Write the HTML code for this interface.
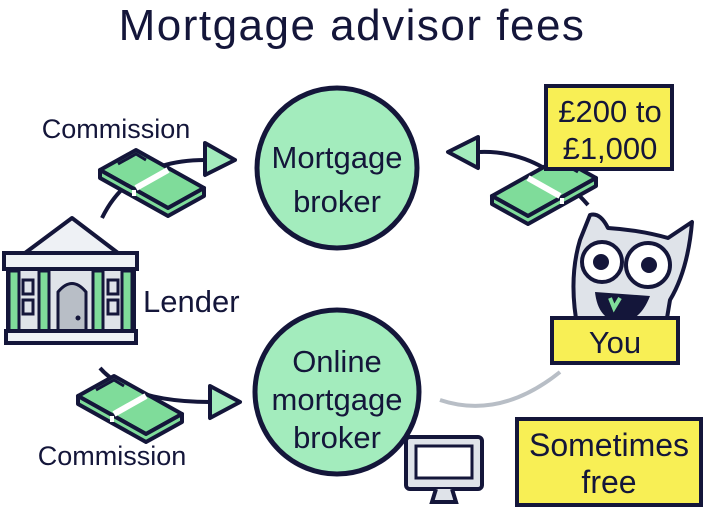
<!DOCTYPE html>
<html><head><style>body{margin:0;background:#fff}svg{display:block}text{font-family:"Liberation Sans",sans-serif;fill:#14163a}</style></head><body>
<svg width="705" height="512" viewBox="0 0 705 512">
<defs>
<g id="money"><path d="M0,20 L36,0 L104,38 L68,58 Z" fill="#7fdc9a" stroke="#14163a" stroke-width="4" stroke-linejoin="round"/><path d="M0,20 L0,28 L68,66 L104,46 L104,38 L68,58 Z" fill="#7fdc9a" stroke="#14163a" stroke-width="4" stroke-linejoin="round"/><path d="M36,38 L68,20" stroke="#fff" stroke-width="6"/><path d="M34,40 L34,46" stroke="#fff" stroke-width="4"/><path d="M18,14 L36,4 L46,10" fill="none" stroke="#14163a" stroke-width="3"/></g>
</defs>
<text x="352" y="40" font-size="44" letter-spacing="1.5" text-anchor="middle">Mortgage advisor fees</text>
<circle cx="337" cy="168" r="80" fill="#a3ecbd" stroke="#14163a" stroke-width="5"/>
<text x="337" y="168" font-size="31" text-anchor="middle">Mortgage</text>
<text x="337" y="212" font-size="31" text-anchor="middle">broker</text>
<circle cx="337" cy="392" r="82" fill="#a3ecbd" stroke="#14163a" stroke-width="5"/>
<text x="337" y="372" font-size="31" text-anchor="middle">Online</text>
<text x="337" y="410" font-size="31" text-anchor="middle">mortgage</text>
<text x="337" y="448" font-size="31" text-anchor="middle">broker</text>
<path d="M102,218 Q130,160 205,160" fill="none" stroke="#14163a" stroke-width="4"/>
<path d="M205,143 L235,160 L205,175 Z" fill="#a3ecbd" stroke="#14163a" stroke-width="4" stroke-linejoin="round"/>
<use href="#money" x="100" y="150"/>
<text x="116" y="138" font-size="27" text-anchor="middle">Commission</text>
<path d="M100,368 Q130,402 210,402" fill="none" stroke="#14163a" stroke-width="4"/>
<path d="M210,386 L240,402 L210,418 Z" fill="#a3ecbd" stroke="#14163a" stroke-width="4" stroke-linejoin="round"/>
<use href="#money" x="78" y="376"/>
<text x="112" y="465" font-size="27" text-anchor="middle">Commission</text>
<path d="M25,253 L72,218 L118,253 Z" fill="#eef1f5" stroke="#14163a" stroke-width="4" stroke-linejoin="round"/>
<rect x="4" y="253" width="133" height="16" fill="#eef1f5" stroke="#14163a" stroke-width="4"/>
<rect x="8" y="269" width="126" height="62" fill="#dfe3e9" stroke="#14163a" stroke-width="4"/>
<g fill="#7fdc9a" stroke="#14163a" stroke-width="3"><rect x="9" y="271" width="10" height="60"/><rect x="39" y="271" width="10" height="60"/><rect x="93" y="271" width="10" height="60"/><rect x="122" y="271" width="10" height="60"/></g>
<g fill="none" stroke="#14163a" stroke-width="3"><rect x="23" y="280" width="10" height="14"/><rect x="23" y="300" width="10" height="14"/><rect x="108" y="280" width="10" height="14"/><rect x="108" y="300" width="10" height="14"/></g>
<path d="M58,331 L58,292 Q72,275 86,292 L86,331 Z" fill="#b8bec6" stroke="#14163a" stroke-width="3"/>
<circle cx="78" cy="318" r="2.5" fill="#14163a"/>
<rect x="6" y="331" width="130" height="12" fill="#eef1f5" stroke="#14163a" stroke-width="4"/>
<text x="143" y="312" font-size="31">Lender</text>
<path d="M588,205 Q540,150 480,152" fill="none" stroke="#14163a" stroke-width="4"/>
<path d="M478,137 L448,152 L478,168 Z" fill="#a3ecbd" stroke="#14163a" stroke-width="4" stroke-linejoin="round"/>
<use href="#money" transform="translate(596,158) scale(-1,1)"/>
<rect x="546" y="86" width="126" height="83" fill="#f8ef55" stroke="#14163a" stroke-width="4"/>
<text x="610" y="122" font-size="31" text-anchor="middle">£200 to</text>
<text x="610" y="159" font-size="31" text-anchor="middle">£1,000</text>
<path d="M578,330 Q568,280 580,240 L590,215 Q600,212 608,228 Q640,230 668,238 L692,222 Q688,270 670,300 L665,330 Z" fill="#dfe3e9" stroke="#14163a" stroke-width="4" stroke-linejoin="round"/>
<circle cx="602" cy="262" r="20" fill="#fff" stroke="#14163a" stroke-width="4"/><circle cx="601" cy="262" r="8" fill="#14163a"/>
<circle cx="648" cy="265" r="22" fill="#fff" stroke="#14163a" stroke-width="4"/><circle cx="649" cy="265" r="8" fill="#14163a"/>
<path d="M595,292 L650,296 Q640,322 620,322 Q598,320 595,292 Z" fill="#14163a"/>
<path d="M610,298 L614,308 L620,298" fill="none" stroke="#7fdc9a" stroke-width="4"/>
<rect x="552" y="318" width="126" height="45" fill="#f8ef55" stroke="#14163a" stroke-width="4"/>
<text x="615" y="353" font-size="31" text-anchor="middle">You</text>
<path d="M440,400 Q500,420 560,372" fill="none" stroke="#b8bec6" stroke-width="4"/>
<rect x="406" y="437" width="76" height="52" rx="4" fill="#dfe3e9" stroke="#14163a" stroke-width="4"/>
<rect x="416" y="446" width="56" height="32" fill="#fff" stroke="#14163a" stroke-width="3"/>
<path d="M436,489 L432,502 L456,502 L452,489" fill="#dfe3e9" stroke="#14163a" stroke-width="4"/>
<rect x="517" y="419" width="184" height="86" fill="#f8ef55" stroke="#14163a" stroke-width="4"/>
<text x="609" y="456" font-size="32" text-anchor="middle">Sometimes</text>
<text x="609" y="493" font-size="32" text-anchor="middle">free</text>
</svg>
</body></html>
